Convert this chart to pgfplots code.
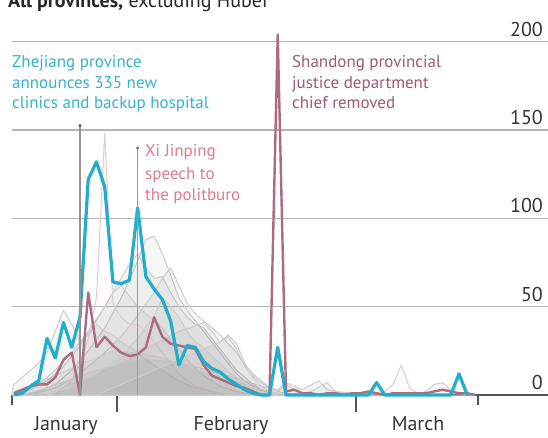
\documentclass[border=0pt]{standalone}
\usepackage{fontspec}
\setmainfont{PT Sans}
\usepackage{pgfplots}
\pgfplotsset{compat=1.18}

\definecolor{zcyan}{RGB}{34,174,200}
\definecolor{ztext}{RGB}{52,178,204}
\definecolor{sline}{RGB}{172,108,128}
\definecolor{stext}{RGB}{160,88,110}
\definecolor{xipink}{RGB}{222,122,140}
\definecolor{gridgray}{RGB}{180,180,180}
\definecolor{basegray}{RGB}{85,85,85}
\definecolor{provgray}{RGB}{204,204,204}
\definecolor{provpink}{RGB}{226,200,210}

\pgfplotsset{
  prov/.style={provgray, line width=1pt, line join=round, fill=gray, fill opacity=0.07},
}

\begin{document}
\begin{tikzpicture}
\begin{axis}[
    at={(12pt,42pt)}, anchor=south west,
    scale only axis, width=536pt, height=353.3pt,
    xmin=19.75, xmax=84.8, ymin=0, ymax=200,
    clip=false,
    axis x line*=bottom, axis y line*=right,
    x axis line style={basegray, line width=2pt, -},
    y axis line style={draw=none},
    tick align=outside,
    xtick={32.5,61.5}, xticklabels={},
    major tick length=17pt,
    xtick style={basegray, line width=1.4pt},
    extra x ticks={19.75,76.3}, extra x tick labels={},
    extra x tick style={major tick length=10pt},
    ytick={0,50,100,150,200},
    ytick style={draw=none},
    ymajorgrids, grid style={gridgray, line width=1.3pt},
    yticklabel style={anchor=base east, xshift=-22pt, yshift=5.5pt, inner sep=0pt,
        font=\fontsize{20}{20}\selectfont, text=black!80},
    /pgf/number format/assume math mode=true,
]
% other provinces
\addplot[prov] coordinates {(21,0)(23,2)(25,6)(27,14)(29,25)(31,38)(33,55)(34,65)(35,76)(36,88)(37,90)(38,80)(39,68)(40,55)(41,48)(42,42)(43,36)(44,30)(45,24)(46,18)(47,12)(48,8)(49,5)(50,3)(51,1)(52,0)} \closedcycle;
\addplot[prov] coordinates {(20,0)(22,3)(24,8)(26,16)(28,28)(30,42)(32,58)(33,66)(34,74)(35,80)(36,72)(37,66)(38,67)(39,58)(40,50)(41,44)(42,40)(43,38)(44,32)(45,26)(46,20)(47,14)(48,10)(49,6)(50,3)(52,1)(54,0)} \closedcycle;
\addplot[prov] coordinates {(22,0)(25,4)(27,9)(29,16)(31,24)(33,33)(35,45)(37,58)(38,66)(39,72)(40,62)(41,52)(42,46)(43,42)(44,38)(45,34)(46,29)(47,24)(48,17)(49,12)(50,8)(51,4)(52,2)(53,1)(55,0)} \closedcycle;
\addplot[prov] coordinates {(19.75,0)(21,2)(23,6)(25,14)(27,24)(29,36)(31,50)(32,58)(33,62)(34,56)(35,50)(36,46)(37,42)(38,38)(39,31)(40,26)(41,20)(42,15)(43,11)(44,8)(45,5)(47,2)(49,0)} \closedcycle;
\addplot[prov, provpink] coordinates {(25,0)(27,8)(28,18)(29,32)(30,55)(31,148)(32,52)(33,44)(34,40)(35,40)(36,36)(37,30)(38,24)(39,18)(40,12)(41,8)(42,5)(44,2)(46,0)} \closedcycle;
\addplot[prov] coordinates {(19.75,2)(20,6)(21,10)(22,14)(23,18)(24,24)(25,36)(26,48)(27,40)(28,30)(29,34)(30,40)(31,36)(32,34)(33,30)(34,27)(35,24)(36,20)(38,14)(40,8)(42,4)(44,2)(46,0)} \closedcycle;
\addplot[prov] coordinates {(24,0)(26,4)(28,8)(30,12)(32,16)(34,20)(36,26)(38,31)(40,36)(42,39)(43,41)(44,36)(45,30)(46,34)(47,29)(48,18)(49,11)(50,7)(51,4)(52,2)(53,6)(54,3)(55,1)(56,0)} \closedcycle;
\addplot[prov] coordinates {(21,0)(24,4)(27,9)(30,14)(33,17)(36,20)(39,19)(42,16)(45,12)(48,8)(50,5)(52,3)(53,7)(54,5)(55,3)(57,8)(58,3)(60,1)(62,0)} \closedcycle;
\addplot[prov] coordinates {(20,2)(22,5)(24,9)(26,13)(28,17)(30,21)(32,25)(34,24)(36,23)(38,21)(40,18)(42,14)(44,11)(46,9)(48,6)(50,3)(52,1)(54,0)} \closedcycle;
\addplot[prov] coordinates {(24,0)(27,5)(30,12)(33,22)(35,32)(37,45)(38,55)(39,50)(40,44)(41,36)(42,30)(43,27)(44,22)(45,18)(46,13)(47,10)(48,6)(50,2)(52,0)} \closedcycle;
\addplot[prov] coordinates {(30,0)(33,6)(36,12)(39,18)(41,22)(43,26)(44,28)(45,30)(46,33)(47,26)(48,16)(49,10)(50,5)(51,2)(52,0)} \closedcycle;
\addplot[prov, provpink] coordinates {(60,0)(63,1)(65,2)(66,6)(67,17)(68,4)(69,1)(71,0)} \closedcycle;
\addplot[prov] coordinates {(54,0)(56,2)(58,7)(59,2)(61,1)(63,0)(68,0)(70,2)(71,6)(72,7)(73,3)(74,1)(76,0)} \closedcycle;
% Shandong
\addplot[sline, line width=2.4pt, line join=round] coordinates {
(20,1)(21,3)(22,5)(23,6)(24,6)(25,10)(26,20)(27,24)(28,0)(29,58)(30,27)(31,33)(32,28)(33,24)(34,22)(35,23)(36,27)(37,44)(38,33)(39,29)(40,28)(41,27)(42,26)(43,17)(44,11)(45,9)(46,7)(47,5)(48,4)(49,2)(50,0)(51,0)(52,204)(53,2)(54,3)(55,1)(56,1)(57,0)(58,1)(59,1)(60,0)(61,1)(62,1)(63,2)(64,1)(65,0)(66,1)(67,1)(68,1)(69,1)(70,1)(71,2)(72,3)(73,2)(74,1)(75,1)(76,0)};
% Zhejiang
\addplot[zcyan, line width=3.2pt, line join=round] coordinates {
(20,0)(21,1)(22,5)(23,8)(24,32)(25,21)(26,41)(27,27)(28,44)(29,122)(30,132)(31,118)(32,64)(33,63)(34,65)(35,106)(36,67)(37,60)(38,54)(39,42)(40,17)(41,28)(42,27)(43,19)(44,15)(45,13)(46,9)(47,6)(48,3)(49,1)(50,0)(51,0)(52,27)(53,0)(54,0)(58,0)(63,0)(64,7)(65,0)(73,0)(74,12)(75,0)};
% annotation lines
\draw[gray!85, line width=1.3pt] (axis cs:28,0) -- (axis cs:28,152.5);
\fill[gray!85!black] (axis cs:28,152.5) circle (1.8pt);
\draw[xipink, line width=1.3pt] (axis cs:35,0) -- (axis cs:35,139.8);
\fill[xipink!80!black] (axis cs:35,139.8) circle (1.8pt);
\end{axis}

\begin{scope}[every node/.style={inner sep=0pt, anchor=base west, font=\fontsize{17}{20}\selectfont}]
\node[text=ztext] at (12pt,369pt) {Zhejiang province};
\node[text=ztext] at (12pt,348pt) {announces 335 new};
\node[text=ztext] at (12pt,328pt) {clinics and backup hospital};
\node[text=stext] at (292pt,369pt) {Shandong provincial};
\node[text=stext] at (292pt,348pt) {justice department};
\node[text=stext] at (292pt,328pt) {chief removed};
\node[text=xipink] at (145pt,280pt) {Xi Jinping};
\node[text=xipink] at (145pt,258pt) {speech to};
\node[text=xipink] at (145pt,237pt) {the politburo};
\end{scope}

\begin{scope}[every node/.style={inner sep=0pt, anchor=base, font=\fontsize{20}{20}\selectfont, text=black!80}]
\node at (66pt,6.5pt) {January};
\node at (231pt,6.5pt) {February};
\node at (418pt,6.5pt) {March};
\end{scope}

\node[inner sep=0pt, anchor=base west, font=\fontsize{20}{20}\selectfont, text=black!85] at (8pt,429pt) {\textbf{All provinces,} excluding Hubei};

\pgfresetboundingbox
\useasboundingbox (0,0) rectangle (548pt,437pt);
\end{tikzpicture}
\end{document}
